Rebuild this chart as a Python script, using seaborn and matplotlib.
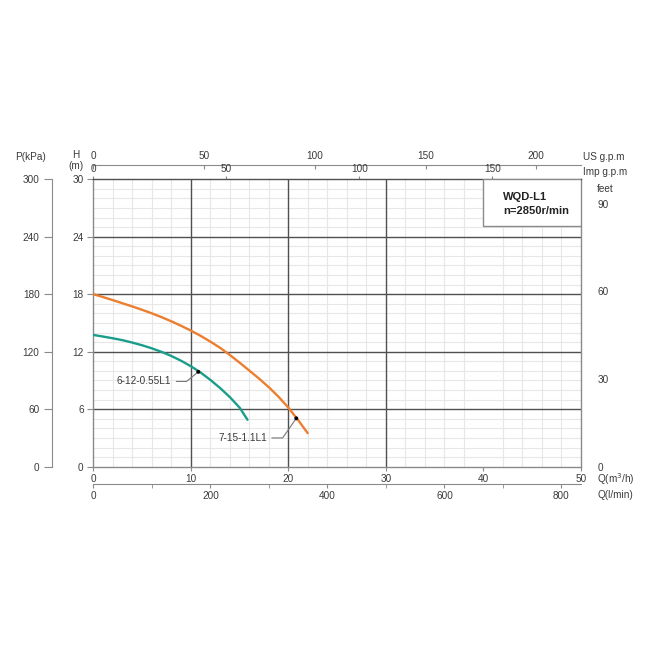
import matplotlib
matplotlib.use("Agg")
import matplotlib.pyplot as plt
import seaborn as sns
import pandas as pd
import numpy as np

# pump curves, Q in m3/h, H in m
teal_q = [0, 1, 2, 3, 4, 5, 6, 7, 8, 9, 10, 11, 12, 13, 14, 15, 15.8]
teal_h = [13.75, 13.58, 13.4, 13.2, 12.95, 12.67, 12.35, 11.98, 11.55, 11.05, 10.48,
          9.82, 9.05, 8.2, 7.25, 6.15, 4.9]
orange_q = [0, 1, 2, 3, 4, 5, 6, 7, 8, 9, 10, 11, 12, 13, 14, 15, 16, 17, 18, 19, 20, 21, 21.97]
orange_h = [18.0, 17.7, 17.38, 17.05, 16.72, 16.37, 16.0, 15.6, 15.17, 14.7, 14.2, 13.65,
            13.05, 12.4, 11.65, 10.85, 10.02, 9.18, 8.28, 7.28, 6.15, 4.85, 3.5]

# duty points and curve names
point_q = [10.75, 20.8]
point_h = [9.9, 5.05]
curve_names = ["6-12-0.55L1", "7-15-1.1L1"]

# axis ticks
q_ticks = [0, 10, 20, 30, 40, 50]
h_ticks = [0, 6, 12, 18, 24, 30]
p_ticks = [0, 60, 120, 180, 240, 300]
feet_ticks = [0, 30, 60, 90]
us_ticks = [0, 50, 100, 150, 200]
imp_ticks = [0, 50, 100, 150]
lmin_ticks = [0, 200, 400, 600, 800]
lmin_minor = [100, 300, 500, 700]

teal = "#1a9e8b"
orange = "#ec7e2f"
txt = "#3a3a3a"
dark = "#505050"
light = "#e9e6e6"
axis_grey = "#8a8a8a"

sns.set_style("white")
plt.rcParams['font.family'] = ['Liberation Sans', 'DejaVu Sans']
plt.rcParams['font.size'] = 7.2

fig = plt.figure(figsize=(6.5, 6.5), dpi=100)
ax = fig.add_axes([0.1438, 0.282, 0.75, 0.4422])

ax.set_xlim(0, 50)
ax.set_ylim(0, 30)

# light grid
ax.set_xticks(np.arange(0, 51, 2), minor=True)
ax.set_yticks(np.arange(0, 31, 1), minor=True)
ax.grid(which="minor", color=light, linewidth=0.8)
ax.tick_params(which="minor", length=0)
for q in [10, 20, 30]:
    ax.axvline(q, color=dark, linewidth=1.0, zorder=1)
for h in [6, 12, 18, 24]:
    ax.axhline(h, color=dark, linewidth=1.0, zorder=1)

for s in ["left", "bottom", "right"]:
    ax.spines[s].set_color(axis_grey)
    ax.spines[s].set_linewidth(1.0)
ax.spines["top"].set_color(dark)
ax.spines["top"].set_linewidth(1.0)

ax.set_xticks(q_ticks)
ax.set_yticks(h_ticks)
ax.tick_params(axis="x", which="major", length=3, pad=2, color=axis_grey, labelcolor=txt, direction="out", bottom=True)
ax.tick_params(axis="y", which="major", length=4, pad=3, color=axis_grey, labelcolor=txt, direction="out", left=True)

# curves
sns.lineplot(x=teal_q, y=teal_h, ax=ax, color=teal, linewidth=1.7, sort=False, zorder=3)
sns.lineplot(x=orange_q, y=orange_h, ax=ax, color=orange, linewidth=1.7, sort=False, zorder=3)
sns.scatterplot(x=point_q, y=point_h, ax=ax, color="black", s=8, zorder=4, edgecolor="none")

# labels with leader lines
ax.plot([8.5, 9.55, point_q[0]], [8.9, 8.9, point_h[0]], color="#777777", linewidth=0.8, zorder=3)
ax.text(8.0, 8.9, curve_names[0], ha="right", va="center", color=txt)
ax.plot([18.3, 19.4, point_q[1]], [3.0, 3.0, point_h[1]], color="#777777", linewidth=0.8, zorder=3)
ax.text(17.8, 3.0, curve_names[1], ha="right", va="center", color=txt)

# info box
ax.add_patch(plt.Rectangle((0.799, 0.8386), 0.201, 0.1614, transform=ax.transAxes,
                           facecolor="white", edgecolor=axis_grey, linewidth=1.0, zorder=5))
ax.text(0.84, 0.938, "WQD-L1", transform=ax.transAxes, fontsize=8, fontweight="bold",
        color="#222222", va="center", zorder=6)
ax.text(0.84, 0.889, "n=2850r/min", transform=ax.transAxes, fontsize=8, fontweight="bold",
        color="#222222", va="center", zorder=6)

# pressure axis
pax = ax.secondary_yaxis(-0.085, functions=(lambda h: h * 10, lambda p: p / 10))
pax.set_yticks(p_ticks)
pax.spines["left"].set_color(axis_grey)
pax.tick_params(length=6, pad=3, color=axis_grey, labelcolor=txt)

# feet axis
fax = ax.secondary_yaxis(1.0, functions=(lambda h: h / 0.3048, lambda f: f * 0.3048))
fax.set_yticks(feet_ticks)
fax.spines["right"].set_visible(False)
fax.tick_params(length=0, pad=12, labelcolor=txt)

# US gpm axis
uax = ax.secondary_xaxis(1.05, functions=(lambda q: q / 0.22712, lambda g: g * 0.22712))
uax.set_xticks(us_ticks)
uax.spines["top"].set_color(axis_grey)
uax.tick_params(direction="in", length=3, pad=3, color=axis_grey, labelcolor=txt)

# Imp gpm axis
iax = ax.secondary_xaxis(1.0, functions=(lambda q: q / 0.27277, lambda g: g * 0.27277))
iax.set_xticks(imp_ticks)
iax.spines["top"].set_visible(False)
iax.tick_params(direction="out", length=2, pad=1.5, color=axis_grey, labelcolor=txt)

# l/min axis
lax = ax.secondary_xaxis(-0.061, functions=(lambda q: q * 1000 / 60, lambda l: l * 60 / 1000))
lax.set_xticks(lmin_ticks)
lax.set_xticks(lmin_minor, minor=True)
lax.spines["bottom"].set_color(axis_grey)
lax.tick_params(which="both", direction="out", length=3, pad=2, color=axis_grey, labelcolor=txt)

# axis titles
ax.text(-0.13, 1.078, "P(kPa)", transform=ax.transAxes, ha="center", va="center", color=txt)
ax.text(-0.036, 1.085, "H", transform=ax.transAxes, ha="center", va="center", color=txt)
ax.text(-0.036, 1.047, "(m)", transform=ax.transAxes, ha="center", va="center", color=txt)
ax.text(1.004, 1.078, "US g.p.m", transform=ax.transAxes, ha="left", va="center", color=txt)
ax.text(1.004, 1.025, "Imp g.p.m", transform=ax.transAxes, ha="left", va="center", color=txt)
ax.text(1.033, 0.966, "feet", transform=ax.transAxes, ha="left", va="center", color=txt)
ax.text(1.033, -0.043, "Q(m$^3$/h)", transform=ax.transAxes, ha="left", va="center", color=txt)
ax.text(1.033, -0.097, "Q(l/min)", transform=ax.transAxes, ha="left", va="center", color=txt)

fig.savefig("out.png", dpi=100, facecolor="white")
